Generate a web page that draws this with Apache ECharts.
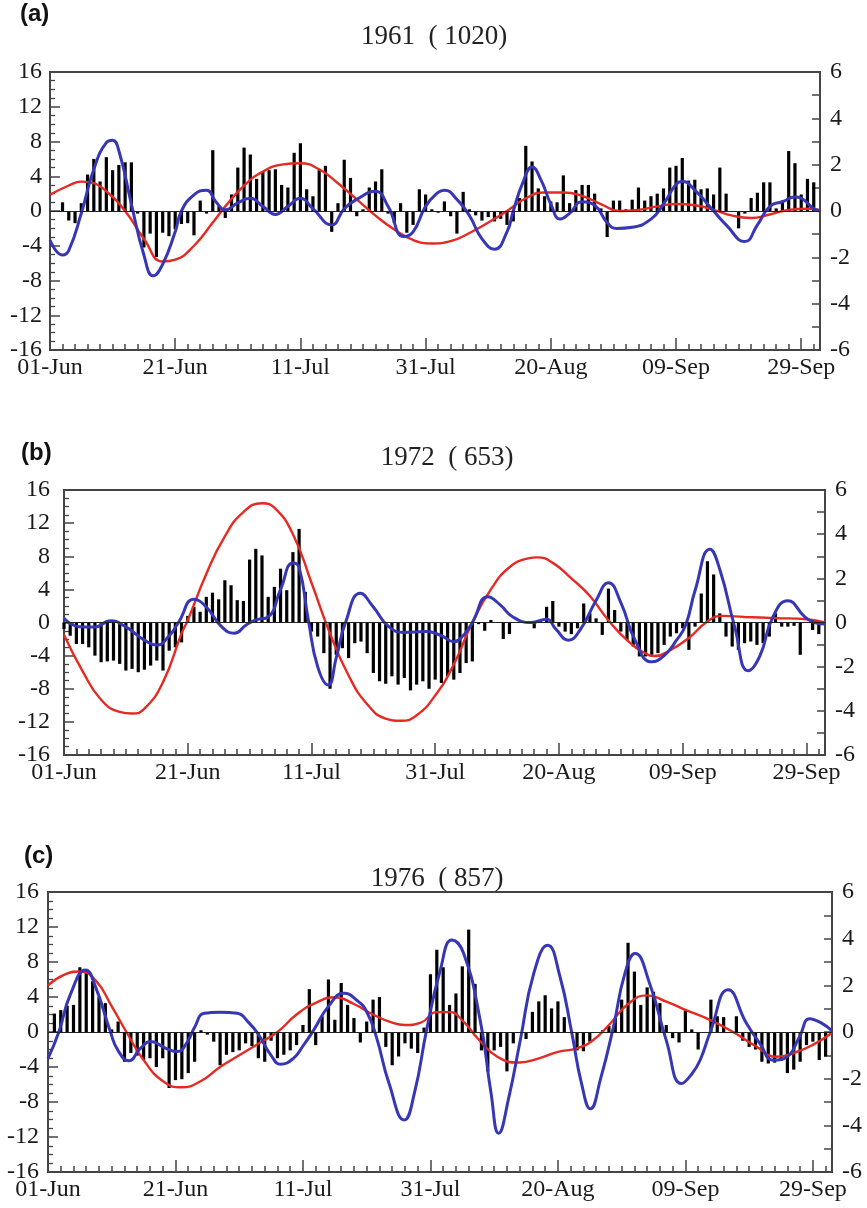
<!DOCTYPE html>
<html>
<head>
<meta charset="utf-8">
<script src="https://cdn.jsdelivr.net/npm/echarts@6/dist/echarts.min.js"></script>
<style>
  html, body { margin: 0; padding: 0; background: #fff; }
  #chart { width: 867px; height: 1208px; }
</style>
</head>
<body>
<div id="chart"></div>
<script>
// x axis: days since 01-Jun, labelled every 20 days
const dateLabels = ['01-Jun', '21-Jun', '11-Jul', '31-Jul', '20-Aug', '09-Sep', '29-Sep'];
const panelTags = ['(a)', '(b)', '(c)'];
const panelTitles = ['1961  ( 1020)', '1972  ( 653)', '1976  ( 857)'];

// daily bars (left axis), index = day
const barsA = [0, 0, 1.0, -1.1, -1.4, 0.9, 4.2, 6.0, 3.4, 6.2, 4.7, 5.3, 5.6, 5.6, -0.3, -4.2, -2.6, -5.3, -2.5, -2.9,
  -2.1, -1.5, -1.4, -2.8, 1.2, -0.3, 7.0, 0.6, -0.8, 1.9, 5.0, 7.3, 6.5, 3.7, 4.5, 4.7, 4.8, 3.0, 2.7, 6.7,
  7.8, 2.5, 1.7, 4.7, 5.2, -2.4, 0.9, 5.9, 3.8, -0.6, 0.2, 2.7, 3.4, 4.8, -0.3, -1.4, 0.9, -2.5, -1.6, 2.5,
  1.9, 0.2, -0.2, 1.1, -0.6, -2.6, 2.2, 0.2, -0.5, -1.1, -0.7, -1.2, -0.9, -1.6, -1.2, 1.5, 7.5, 5.7, 2.6, 1.7,
  1.1, 1.0, 4.1, 0.9, 2.4, 3.0, 3.0, 2.0, 0.3, -3.0, 1.2, 1.2, 0.2, 1.3, 2.7, 1.2, 1.7, 2.0, 2.6, 5.0,
  5.2, 6.1, 3.5, 3.6, 2.5, 2.6, 1.9, 5.0, 2.0, 0, -2.0, -0.3, 1.5, 2.1, 3.3, 3.3, 0.3, 1.2, 6.9, 5.5,
  1.9, 3.7, 3.3];
const barsB = [-0.8, -1.6, -2.6, -2.6, -3.0, -4.0, -4.8, -4.7, -4.6, -5.0, -5.8, -5.6, -6.0, -5.7, -5.2, -4.6, -5.8, -3.4, -3.0, -2.4,
  0.8, 1.9, 1.3, 3.1, 3.6, 2.8, 5.1, 4.5, 2.7, 2.6, 7.6, 8.9, 8.1, 3.1, 4.3, 6.5, 3.9, 8.5, 11.3, 3.7,
  -1.1, -1.7, -3.7, -8.0, -3.9, -3.1, -4.3, -2.5, -2.3, -3.7, -6.1, -7.1, -7.4, -6.5, -7.5, -6.7, -8.2, -7.5, -7.1, -8.0,
  -6.9, -7.3, -6.5, -6.9, -6.1, -4.9, -4.7, -0.2, -1.0, 0.3, 0, -2.0, -1.4, 0, 0, -0.1, -0.7, 0.2, 1.9, 2.6,
  -0.5, -1.1, -1.4, -0.7, 2.3, 1.1, 0.5, -1.5, 4.1, 1.5, -1.1, -2.1, -2.9, -4.1, -4.1, -3.9, -3.7, -2.7, -1.7, -1.3,
  -0.7, -3.3, -0.5, 3.5, 7.4, 5.8, 1.1, -1.7, -2.9, -3.3, -2.5, -2.3, -2.7, -2.5, -1.7, 1.1, -0.5, -0.5, -0.4, -3.9,
  0, -0.9, -1.4];
const barsC = [0, 2.1, 2.5, 3.0, 3.1, 7.4, 7.2, 5.8, 4.0, 3.3, 0.3, 1.2, -3.4, -2.4, -2.7, -3.2, -3.0, -4.0, -3.0, -6.4,
  -5.5, -5.4, -4.7, -3.4, 0.2, -0.3, -1.1, -3.8, -2.6, -2.3, -2.1, -1.3, -1.6, -3.0, -3.4, -1.0, -3.0, -2.6, -2.1, -1.5,
  0.8, 4.9, -1.5, 1.8, 6.0, 1.4, 5.6, 3.1, 1.6, -1.2, 1.2, 3.7, 4.0, -1.7, -3.8, -2.8, -1.3, -1.9, -2.4, 0.5,
  6.6, 9.4, 7.4, 3.1, 4.4, 7.5, 11.7, 5.5, -2.1, -4.5, -2.1, -1.7, -4.5, -1.3, 0, -0.8, 2.3, 3.5, 4.2, 2.7,
  3.5, 1.7, 0, -2.1, -2.2, -1.1, 0, 0.2, 0.7, 1.6, 3.7, 10.2, 6.9, 3.1, 5.1, 4.6, 3.3, 0.8, -0.7, -1.2,
  2.5, 0.3, -2.0, 0, 3.7, 1.8, 1.7, 0, 1.8, -1.0, -1.7, -2.0, -3.4, -3.6, -3.5, -3.3, -4.7, -4.3, -3.4, -1.5,
  -1.1, -3.2, -2.8];

// smoothed curves (right axis), [day, value]
const redA = [[0, 0.7], [3, 1.1], [5, 1.27], [7, 1.2], [9, 0.85], [12, 0], [15, -1.2], [18, -2.18], [20, -2.1], [23, -1.5],
  [26, -0.5], [28, 0.2], [31, 1.1], [34, 1.7], [37, 2.0], [40, 2.06], [43, 1.8], [46, 1.2], [49, 0.5], [52, -0.2],
  [55, -0.8], [58, -1.25], [61, -1.4], [64, -1.3], [67, -0.95], [70, -0.5], [73, 0], [76, 0.55], [79, 0.8], [82, 0.8],
  [85, 0.65], [88, 0.3], [91, 0], [94, 0.05], [97, 0.2], [100, 0.3], [103, 0.25], [106, 0.05], [109, -0.2], [112, -0.3],
  [115, -0.15], [118, 0.05], [121, 0.1], [123, 0.05]];
const blueA = [[0, -1.25], [2, -1.9], [3, -1.7], [5, -0.1], [7, 1.8], [9, 2.95], [10, 3.05], [11, 2.6], [13, 0.3], [15, -1.9],
  [16.5, -2.8], [18, -2.3], [20, -0.9], [21, 0], [23, 0.7], [25, 0.9], [26.5, 0.4], [28, 0.05], [30, 0.35], [32, 0.55],
  [34, 0.2], [36, -0.15], [38, 0.2], [40, 0.55], [42, 0.1], [45, -0.6], [47, 0.1], [49, 0.5], [52, 0.85], [54, 0.2],
  [56.5, -1.1], [58, -0.9], [60, 0.2], [62, 0.8], [63, 0.9], [65, 0.5], [67, -0.2], [69, -1.2], [71, -1.65], [73, -0.9],
  [74, 0], [75.5, 1.2], [77, 1.9], [78.5, 1.3], [80, 0.3], [81.5, -0.35], [83, -0.1], [85, 0.4], [87, 0.25], [89, -0.5],
  [90.5, -0.75], [93, -0.7], [96, -0.35], [98, 0.3], [100, 1.15], [101, 1.27], [103, 0.9], [106, 0], [108, -0.6], [111, -1.32],
  [113, -0.6], [115, 0.2], [117, 0.4], [119, 0.6], [120, 0.55], [122, 0.1], [123, 0]];
const redB = [[0, -0.55], [3, -2.2], [6, -3.5], [9, -4.05], [11, -4.12], [13, -3.9], [16, -2.7], [19, -0.5], [20, 0.1], [23, 2.2],
  [26, 3.9], [29, 5.0], [32, 5.4], [34, 5.2], [37, 4.0], [40, 1.8], [43, -0.5], [46, -2.4], [49, -3.7], [52, -4.35],
  [54.5, -4.45], [57, -4.2], [60, -3.3], [63, -1.9], [66, 0], [69, 1.5], [72, 2.5], [75, 2.9], [76.5, 2.95], [79, 2.7],
  [82, 2.0], [85, 1.2], [88, 0.1], [91, -0.8], [94, -1.4], [95.5, -1.52], [98, -1.25], [101, -0.7], [104, 0.05], [106.5, 0.3],
  [110, 0.25], [115, 0.2], [120, 0.15], [123, 0]];
const blueB = [[0, 0.19], [2.5, -0.19], [5, -0.2], [7.5, 0.08], [10, -0.2], [13, -0.8], [15, -1.02], [17, -0.6], [18.5, 0], [21, 1.05],
  [23, 0.7], [25.5, -0.2], [27.5, -0.49], [29.5, -0.1], [31, 0.12], [33, 0.25], [35, 1.5], [37, 2.7], [38, 2.5], [39.5, 0.1],
  [41, -2.0], [42.7, -2.83], [44, -1.6], [45.5, 0], [47.9, 1.32], [50, 0.7], [52.5, -0.19], [55, -0.45], [58.5, -0.41], [61, -0.6],
  [63, -0.87], [64.5, -0.6], [66, 0], [68.5, 1.17], [70.5, 0.8], [72.5, 0.26], [75.5, 0], [78, 0.15], [79.5, -0.3], [81.5, -0.8],
  [83.5, -0.3], [86, 1.0], [88, 1.8], [90, 0.9], [92.3, -0.8], [95, -1.78], [97, -1.5], [99, -0.8], [100.5, -0.1], [102, 1.45],
  [104.4, 3.32], [106, 2.4], [108.4, -0.2], [110.6, -2.19], [112.5, -1.5], [114.5, 0.2], [117, 0.99], [119.7, 0.27], [121.3, 0], [123, -0.07]];
const redC = [[0, 2.0], [2.5, 2.45], [5, 2.59], [7.5, 2.2], [10, 1.1], [12.3, 0], [15, -1.2], [18, -2.1], [21, -2.37], [24, -2.1],
  [27, -1.5], [30, -1.0], [33, -0.5], [36, 0], [39, 0.75], [42, 1.25], [45, 1.49], [48, 1.2], [51, 0.75], [54, 0.4],
  [56, 0.3], [58.5, 0.4], [61, 0.85], [63, 0.85], [65, 0.5], [67.5, -0.3], [70.5, -1.06], [74, -1.31], [77, -1.13], [80, -0.85],
  [83, -0.7], [85.5, -0.35], [88, 0.3], [91, 1.2], [94, 1.57], [97, 1.3], [100, 0.95], [104, 0.5], [107.5, 0], [111, -0.6],
  [114.3, -1.06], [117, -0.9], [120, -0.55], [123, -0.03]];
const blueC = [[0, -1.13], [1.7, 0], [3.5, 1.6], [5.9, 2.66], [7.5, 1.9], [9.8, 0], [11, -0.8], [12.7, -1.23], [14.5, -0.7], [16.1, -0.41],
  [18.5, -0.7], [20.3, -0.84], [21.8, -0.45], [23, 0.2], [24.5, 0.8], [27, 0.85], [29.7, 0.8], [31.5, 0.4], [33, -0.1], [35, -1.0],
  [36.5, -1.38], [38.5, -1.13], [40, -0.6], [41.7, 0.09], [44, 1.1], [46.4, 1.66], [48.5, 1.35], [50, 0.87], [51.5, -0.2], [53.5, -2.2],
  [55.9, -3.77], [57.5, -2.6], [59.4, 0.09], [61.5, 2.6], [63.4, 3.94], [65.2, 3.37], [67.8, 0.51], [69.5, -2.6], [70.7, -4.34], [72.3, -2.8],
  [74.1, -0.34], [76.2, 2.5], [78.4, 3.72], [80.3, 2.4], [82.2, -0.07], [83.7, -2.2], [85.1, -3.29], [86.7, -2.0], [88.7, 0.21], [90.5, 2.5],
  [92.1, 3.36], [94.4, 2.07], [97, -0.36], [99.4, -2.21], [101, -1.8], [102.3, -1.21], [103.9, 0], [106.7, 1.81], [109.6, 0.36], [111.7, -0.5],
  [113.8, -1.21], [115.9, -1.07], [117.9, -0.21], [119.5, 0.57], [121.3, 0.39], [123, 0.05]];

const panels = [
  { bars: barsA, red: redA, blue: blueA, grid: { left: 50, top: 72, width: 770, height: 278 }, tagX: 20, tagY: 14, titleX: 434, titleY: 37, yMargin: 8 },
  { bars: barsB, red: redB, blue: blueB, grid: { left: 64, top: 490, width: 761, height: 265 }, tagX: 21, tagY: 453, titleX: 447, titleY: 458, yMargin: 14 },
  { bars: barsC, red: redC, blue: blueC, grid: { left: 48, top: 892, width: 784, height: 280 }, tagX: 24, tagY: 856, titleX: 437, titleY: 879, yMargin: 9 }
];

const frame = '#444';
const labelFont = { color: '#1a1a1a', fontFamily: 'Liberation Serif', fontSize: 24 };

const grid = [], xAxis = [], yAxis = [], series = [], graphic = [];

panels.forEach((p, i) => {
  grid.push(Object.assign({ show: true, borderColor: frame, borderWidth: 1.8, backgroundColor: 'transparent' }, p.grid));

  // minor ticks every 2 days + date labels
  xAxis.push({
    type: 'value', gridIndex: i, position: 'bottom', min: 0, max: 123, interval: 2,
    axisLine: { show: true, onZero: false, lineStyle: { color: frame, width: 1.8 } },
    axisTick: { inside: true, length: 6, lineStyle: { color: frame, width: 1.5 } },
    axisLabel: Object.assign({
      margin: 6,
      formatter: (v) => (v % 20 === 0 && v <= 120 ? dateLabels[v / 20] : '')
    }, labelFont),
    splitLine: { show: false }
  });
  // long ticks every 20 days
  xAxis.push({
    type: 'value', gridIndex: i, position: 'bottom', min: 0, max: 123, interval: 20,
    axisLine: { show: false, onZero: false },
    axisTick: { inside: true, length: 12, lineStyle: { color: frame, width: 1.5 } },
    axisLabel: { show: false },
    splitLine: { show: false }
  });

  yAxis.push({
    type: 'value', gridIndex: i, position: 'left', min: -16, max: 16, interval: 4,
    axisLine: { show: true, onZero: false, lineStyle: { color: frame, width: 1.8 } },
    axisTick: { inside: true, length: 10, lineStyle: { color: frame, width: 1.5 } },
    minorTick: { show: true, splitNumber: 4, length: 5, lineStyle: { color: frame, width: 1.3 } },
    axisLabel: Object.assign({ margin: p.yMargin }, labelFont),
    splitLine: { show: false }
  });
  yAxis.push({
    type: 'value', gridIndex: i, position: 'right', min: -6, max: 6, interval: 2,
    axisLine: { show: true, onZero: false, lineStyle: { color: frame, width: 1.8 } },
    axisTick: { inside: true, length: 8, lineStyle: { color: frame, width: 1.5 } },
    minorTick: { show: true, splitNumber: 2, length: 8, lineStyle: { color: frame, width: 1.5 } },
    axisLabel: Object.assign({ margin: 10 }, labelFont),
    splitLine: { show: false }
  });

  series.push({
    type: 'bar', xAxisIndex: i * 2, yAxisIndex: i * 2,
    data: p.bars.map((v, d) => [d, v]),
    barWidth: 3.2,
    itemStyle: { color: '#000' },
    z: 2,
    markLine: {
      silent: true, symbol: ['none', 'none'], label: { show: false },
      lineStyle: { color: '#222', width: 1.2, type: 'solid' },
      data: [{ yAxis: 0 }]
    }
  });
  series.push({
    type: 'line', xAxisIndex: i * 2, yAxisIndex: i * 2 + 1,
    data: p.red, smooth: 0.5, showSymbol: false,
    lineStyle: { color: '#e42a22', width: 2.4 },
    z: 3
  });
  series.push({
    type: 'line', xAxisIndex: i * 2, yAxisIndex: i * 2 + 1,
    data: p.blue, smooth: 0.5, showSymbol: false,
    lineStyle: { color: '#3737b6', width: 3 },
    z: 4
  });

  graphic.push({
    type: 'text', x: p.tagX, y: p.tagY,
    style: { text: panelTags[i], font: 'bold 24px "Liberation Sans"', fill: '#111',
      textAlign: 'left', textVerticalAlign: 'middle', align: 'left', verticalAlign: 'middle' }
  });
  graphic.push({
    type: 'text', x: p.titleX, y: p.titleY,
    style: { text: panelTitles[i], font: '27px "Liberation Serif"', fill: '#222',
      textAlign: 'center', textVerticalAlign: 'middle', align: 'center', verticalAlign: 'middle' }
  });
});

const chart = echarts.init(document.getElementById('chart'));
chart.setOption({
  animation: false,
  backgroundColor: '#fff',
  grid, xAxis, yAxis, series, graphic
});
</script>
</body>
</html>
